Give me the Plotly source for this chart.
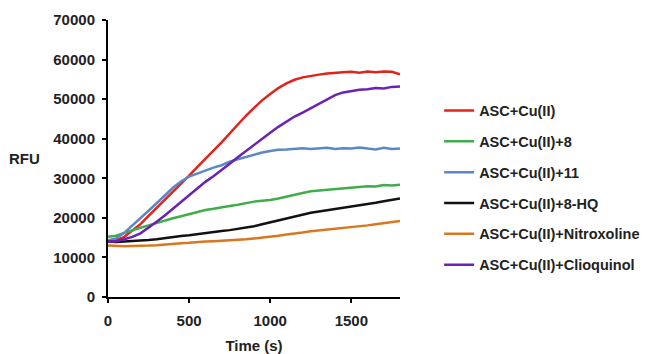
import plotly.graph_objects as go

time_s = list(range(0, 1801, 50))

asc_cu = [14000, 14300, 15200, 16700, 18400, 20500, 22500, 24500, 26500, 28600,
          30700, 32800, 34800, 37000, 39100, 41300, 43700, 45800, 47800, 49700,
          51300, 52800, 54000, 54900, 55500, 55900, 56200, 56500, 56700, 56800,
          56900, 56700, 57000, 56800, 57000, 56900, 56300]
asc_cu_8 = [15200, 15500, 16200, 16900, 17500, 18100, 18700, 19400, 19900, 20400,
            20900, 21400, 22000, 22300, 22700, 23000, 23300, 23700, 24100, 24300,
            24500, 24900, 25400, 25900, 26300, 26700, 26900, 27000, 27300, 27500,
            27600, 27800, 28000, 27900, 28300, 28200, 28400]
asc_cu_11 = [14300, 14800, 16200, 18000, 19800, 21800, 23700, 25600, 27600, 29200,
             30400, 31200, 32000, 32700, 33300, 34200, 34800, 35400, 35900, 36500,
             36900, 37200, 37300, 37400, 37600, 37400, 37500, 37700, 37400, 37600,
             37500, 37800, 37500, 37300, 37700, 37400, 37500]
asc_cu_8hq = [14000, 13900, 14000, 14100, 14200, 14400, 14600, 14900, 15100, 15400,
              15600, 15900, 16100, 16400, 16700, 16900, 17200, 17500, 17900, 18400,
              18900, 19400, 19900, 20300, 20800, 21300, 21600, 21900, 22200, 22600,
              22900, 23200, 23500, 23800, 24200, 24500, 24900]
asc_cu_nitro = [13000, 12900, 12800, 12900, 12900, 13000, 13100, 13300, 13400, 13600,
                13700, 13900, 14000, 14100, 14200, 14400, 14500, 14600, 14800, 15000,
                15300, 15500, 15800, 16000, 16300, 16600, 16800, 17000, 17200, 17400,
                17600, 17800, 18100, 18400, 18700, 19000, 19200]
asc_cu_clio = [14000, 14100, 14600, 15200, 16100, 17500, 19000, 20600, 22300, 24000,
               25700, 27400, 29100, 30500, 32000, 33700, 35300, 36900, 38400, 40000,
               41500, 43000, 44300, 45600, 46600, 47700, 48800, 49900, 51000, 51700,
               52100, 52400, 52500, 52800, 52700, 53100, 53200]

series_names = ["ASC+Cu(II)", "ASC+Cu(II)+8", "ASC+Cu(II)+11", "ASC+Cu(II)+8-HQ",
                "ASC+Cu(II)+Nitroxoline", "ASC+Cu(II)+Clioquinol"]
series_values = [asc_cu, asc_cu_8, asc_cu_11, asc_cu_8hq, asc_cu_nitro, asc_cu_clio]
colors = ["#e2231a", "#3fae4a", "#5b86c8", "#111111", "#d9771f", "#6a22b4"]

x_ticks = [0, 500, 1000, 1500]
y_ticks = [0, 10000, 20000, 30000, 40000, 50000, 60000, 70000]

font_family = "Liberation Sans"
txt = "#222222"
fnt = dict(family=font_family, size=15, color=txt, weight="bold")
leg_fnt = dict(family=font_family, size=14.5, color=txt, weight="bold")

fig = go.Figure()
for name, vals, col in zip(series_names, series_values, colors):
    fig.add_trace(go.Scatter(x=time_s, y=vals, mode="lines", name=name,
                             legendgroup=name,
                             line=dict(color=col, width=2.5)))

fig.update_layout(
    width=643, height=346,
    margin=dict(l=100, r=251, t=12, b=57, autoexpand=False),
    paper_bgcolor="white", plot_bgcolor="white",
    font=fnt,
    showlegend=True,
    legend=dict(x=1.134, y=0.731, xanchor="left", yanchor="top",
                font=leg_fnt, tracegroupgap=9, bgcolor="rgba(0,0,0,0)"),
    xaxis=dict(range=[0, 1800], tickvals=x_ticks, showgrid=False, zeroline=False,
               showline=True, linecolor="black", linewidth=2,
               ticks="outside", ticklen=4, tickwidth=2, tickcolor="black",
               tickfont=fnt, automargin=False, ticklabelstandoff=5,
               title=dict(text="Time (s)", standoff=18, font=fnt)),
    yaxis=dict(range=[0, 70000], tickvals=y_ticks, tickformat="d",
               showgrid=False, zeroline=False,
               showline=True, linecolor="black", linewidth=2,
               ticks="outside", ticklen=4, tickwidth=2, tickcolor="black",
               tickfont=fnt, automargin=False, ticklabelstandoff=4),
    annotations=[dict(text="RFU", xref="paper", yref="paper", x=-0.285, y=0.5,
                      xanchor="center", yanchor="middle", showarrow=False,
                      font=fnt)],
)

fig.write_html("out.html")
